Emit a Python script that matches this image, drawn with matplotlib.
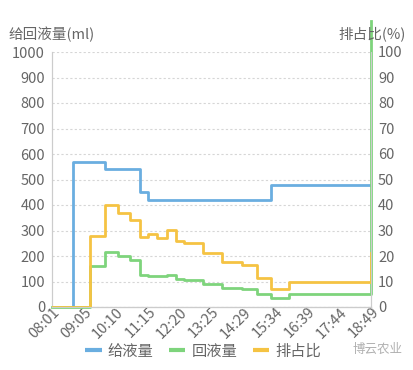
"""Step chart of supply/drain volume and drain ratio over one day."""
import matplotlib
matplotlib.use("Agg")
import matplotlib.pyplot as plt
import matplotlib.transforms as mtransforms
from matplotlib.lines import Line2D

plt.rcParams['font.family'] = ['Noto Sans CJK SC', 'DejaVu Sans']

# sample times (HH:MM) and values
times = ["08:01", "08:43", "09:18", "09:49", "10:16", "10:39", "10:59", "11:17",
         "11:35", "11:54", "12:13", "12:30", "13:07", "13:46", "14:26", "14:57",
         "15:25", "16:02", "18:49"]
supply_ml = [0, 570, 570, 540, 540, 540, 450, 420,
             420, 420, 420, 420, 420, 420, 420, 420,
             480, 480, 480]
drain_ml = [0, 0, 160, 215, 200, 185, 125, 120,
            120, 125, 110, 105, 90, 75, 70, 50,
            35, 50, 1120]
drain_pct = [0, 0, 28, 40, 37, 34, 27.5, 28.5,
             27, 30, 26, 25, 21, 17.5, 16.5, 11.5,
             7, 10, 21]

tick_labels = ["08:01", "09:05", "10:10", "11:15", "12:20", "13:25",
               "14:29", "15:34", "16:39", "17:44", "18:49"]

BLUE = '#6aaee0'
GREEN = '#7ed47c'
YELLOW = '#f5c343'
TXT = '#666666'


def to_min(s):
    h, m = s.split(':')
    return int(h) * 60 + int(m)


x = [to_min(t) for t in times]
x0, x1 = to_min(times[0]), to_min(times[-1])
tick_pos = [x0 + i * (x1 - x0) / 10 for i in range(11)]

fig = plt.figure(figsize=(4.14, 3.70), dpi=100)
ax = fig.add_axes([52 / 414, 63 / 370, 319 / 414, 255 / 370])
ax2 = ax.twinx()

ax.set_xlim(x0, x1)
ax.set_ylim(0, 1000)
ax2.set_ylim(0, 100)

ax.set_yticks(range(0, 1001, 100))
ax2.set_yticks(range(0, 101, 10))
ax.grid(axis='y', color='#d6d6d6', linestyle=(0, (2, 2)), linewidth=0.8)
ax.set_axisbelow(True)

for a in (ax, ax2):
    a.tick_params(length=0, labelsize=10.5, labelcolor=TXT, pad=5)
    for sp in a.spines.values():
        sp.set_color('#cccccc')
    a.spines['top'].set_visible(False)
ax.spines['bottom'].set_color('#999999')

ax.set_xticks(tick_pos)
ax.set_xticklabels(tick_labels, rotation=45, ha='right', va='center',
                   rotation_mode='anchor')
ax.tick_params(axis='x', pad=0)
offset = mtransforms.ScaledTranslation(4 / 72, -2 / 72, fig.dpi_scale_trans)
for lab in ax.get_xticklabels():
    lab.set_transform(lab.get_transform() + offset)

lw = 2.0
ax.plot(x, supply_ml, drawstyle='steps-post', color=BLUE, lw=lw, zorder=3)
ax.plot(x, drain_ml, drawstyle='steps-post', color=GREEN, lw=lw, zorder=3,
        clip_on=False)
ax2.plot(x, drain_pct, drawstyle='steps-post', color=YELLOW, lw=lw, zorder=4)

fig.text(8 / 414, 1 - 34 / 370, '给回液量(ml)', fontsize=10.5, color=TXT,
         va='center', ha='left')
fig.text(406 / 414, 1 - 34 / 370, '排占比(%)', fontsize=10.5, color=TXT,
         va='center', ha='right')

handles = [Line2D([], [], color=c, lw=3, solid_capstyle='butt')
           for c in (BLUE, GREEN, YELLOW)]
fig.legend(handles, ['给液量', '回液量', '排占比'], loc='center',
           bbox_to_anchor=(203 / 414, 1 - 351 / 370), ncol=3, frameon=False,
           fontsize=11, handlelength=1.1, handletextpad=0.4, columnspacing=1.0,
           labelcolor=TXT)

# watermark
fig.text(403 / 414, 1 - 349 / 370, '博云农业', fontsize=9, color='#b0b0b0',
         ha='right', va='center')

fig.savefig('out.png', dpi=100)
